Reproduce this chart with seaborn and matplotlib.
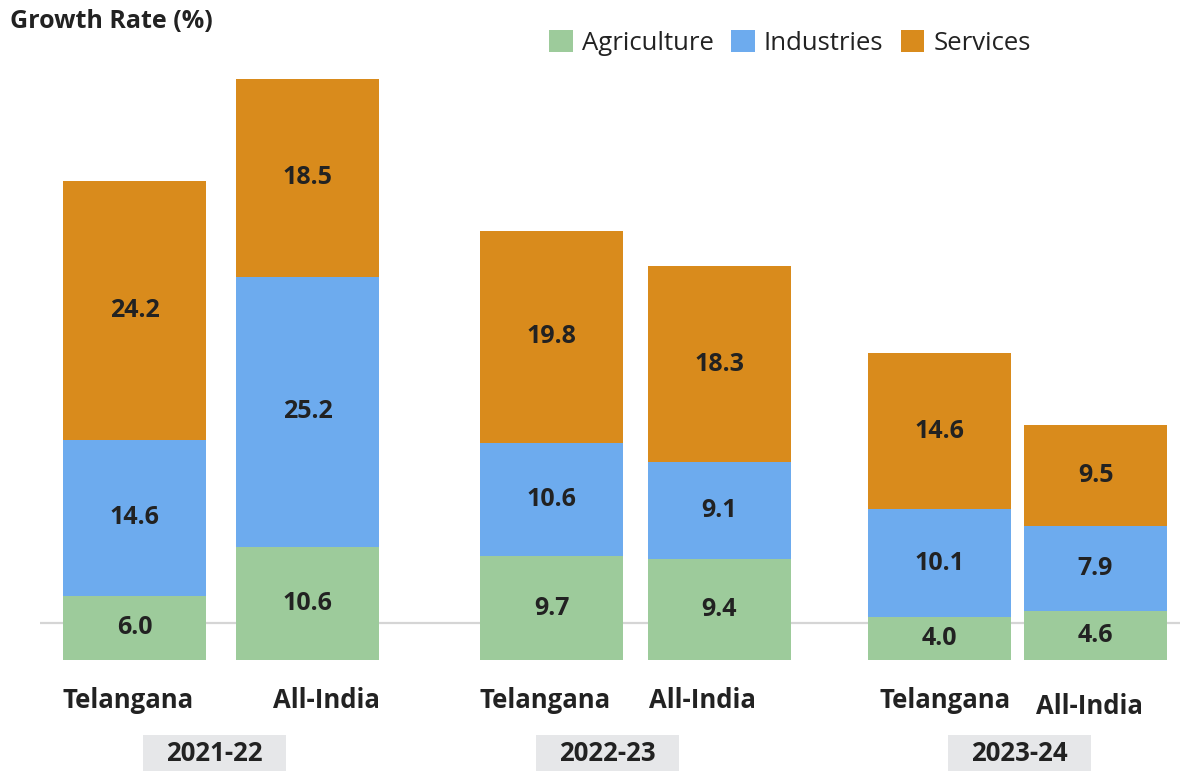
import matplotlib
matplotlib.use("Agg")
import matplotlib.pyplot as plt
from matplotlib.patches import Patch, Rectangle
import seaborn as sns
import pandas as pd
import numpy as np

sns.set_theme(style="white")
plt.rcParams["font.family"] = ["Open Sans", "DejaVu Sans"]

# data
years = ["2021-22", "2022-23", "2023-24"]
regions = ["Telangana", "All-India"]
agriculture = [6.0, 10.6, 9.7, 9.4, 4.0, 4.6]
industries = [14.6, 25.2, 10.6, 9.1, 10.1, 7.9]
services = [24.2, 18.5, 19.8, 18.3, 14.6, 9.5]

colors = {"Agriculture": "#9DCB9B", "Industries": "#6DABEE", "Services": "#D98B1C"}
TEXT = "#222222"

# layout (x unit ~ 170 px)
group_centers = [0.509, 2.947, 5.194]
pair_gaps = [1.018, 0.988, 0.918]
bar_width = 0.841
year_box_dx = [-0.04, -0.165, 0.01]
label_dx = [-0.038, 0.109, -0.038, -0.103, 0.032, -0.038]
label_dy = [0, 0, 0, 0, 0, -0.55]

pos = []
for g in range(len(years)):
    for i in range(len(regions)):
        pos.append(round(group_centers[g] + (i - 0.5) * pair_gaps[g], 3))

df = pd.DataFrame({
    "pos": pos,
    "region": regions * len(years),
    "year": np.repeat(years, len(regions)),
    "agri": agriculture,
    "ind": industries,
    "serv": services,
})
df["lvl1"] = df["agri"]
df["lvl2"] = df["agri"] + df["ind"]
df["lvl3"] = df["lvl2"] + df["serv"]

fig = plt.figure(figsize=(11.8, 7.71), dpi=100)
ax = fig.add_axes([40 / 1180, (771 - 660) / 771, 1140 / 1180, 600 / 771])

min_gap = np.min(np.diff(np.sort(df["pos"].values)))
w = bar_width / min_gap

ax.axhline(3.5, color="#D5D5D5", lw=1.6, zorder=0)
for col, name in [("lvl3", "Services"), ("lvl2", "Industries"), ("lvl1", "Agriculture")]:
    sns.barplot(data=df, x="pos", y=col, native_scale=True, orient="x",
                width=w, color=colors[name], saturation=1, errorbar=None,
                linewidth=0, ax=ax, zorder=2)

# value labels
for _, r in df.iterrows():
    for lo, hi, v in [(0, r["lvl1"], r["agri"]), (r["lvl1"], r["lvl2"], r["ind"]),
                      (r["lvl2"], r["lvl3"], r["serv"])]:
        ax.text(r["pos"], (lo + hi) / 2, f"{v:.1f}", ha="center", va="center",
                fontsize=18, fontweight="bold", color=TEXT, zorder=3)

# region labels
for k, r in df.iterrows():
    ax.text(r["pos"] + label_dx[k], -3.75 + label_dy[k], r["region"], ha="center",
            va="center", fontsize=18.5, fontweight="bold", color=TEXT, clip_on=False)

# year boxes
for g, yr in enumerate(years):
    cx = group_centers[g] + year_box_dx[g]
    ax.add_patch(Rectangle((cx - bar_width / 2, -10.4), bar_width, 3.4,
                           facecolor="#E6E7E9", edgecolor="none", clip_on=False))
    ax.text(cx, -8.7, yr, ha="center", va="center", fontsize=18.5,
            fontweight="bold", color=TEXT, clip_on=False)

ax.set_xlim(-0.556, 6.15)
ax.set_ylim(0, 56.07)
ax.set_xlabel("")
ax.set_ylabel("")
ax.set_xticks([])
ax.set_yticks([])
sns.despine(ax=ax, left=True, bottom=True)

fig.text(10 / 1180, 1 - 22 / 771, "Growth Rate (%)", ha="left", va="center",
         fontsize=18, fontweight="bold", color=TEXT)

handles = [Patch(facecolor=colors[n], edgecolor="none", label=n) for n in colors]
fig.legend(handles=handles, loc="center", bbox_to_anchor=(790 / 1180, 1 - 43 / 771),
           ncol=3, frameon=False, fontsize=18.5, handlelength=0.9, handleheight=0.9,
           handletextpad=0.35, columnspacing=0.7, labelcolor=TEXT)

fig.savefig("out.png", dpi=100)
